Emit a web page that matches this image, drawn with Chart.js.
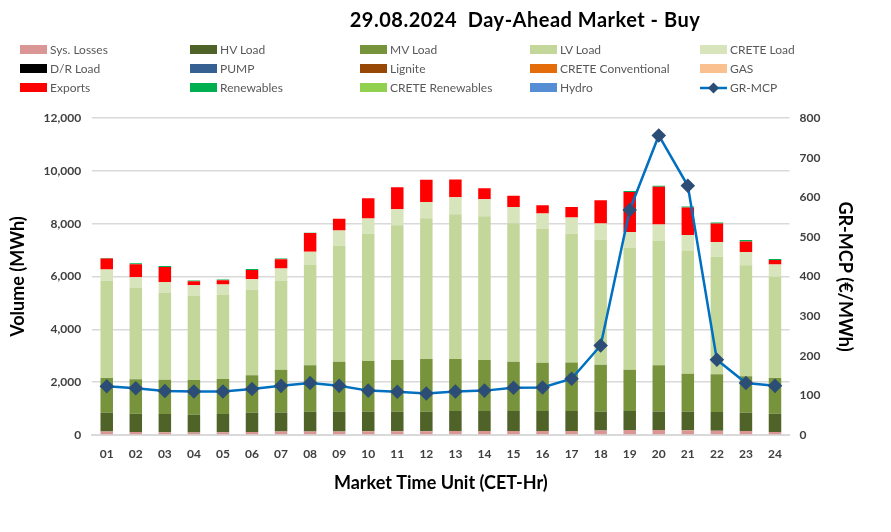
<!DOCTYPE html>
<html>
<head>
<meta charset="utf-8">
<script src="https://cdn.jsdelivr.net/npm/chart.js@4"></script>
<style>
  body { margin: 0; background: #fff; }
  #wrap { position: relative; width: 891px; height: 532px; font-family: Lato, "Open Sans", sans-serif; }
  #title { position: absolute; top: 7px; left: 525px; transform: translateX(-50%); white-space: nowrap;
           font-weight: bold; font-size: 20px; letter-spacing: 0.5px; color: #000; }
  #legend { position: absolute; top: 41px; left: 20px; width: 860px; }
  .item { position: absolute; height: 18px; line-height: 18px; font-size: 12px; color: #595959; white-space: nowrap; }
  .box { display: inline-block; width: 27px; height: 9px; vertical-align: middle; margin-right: 3px; margin-top: -2px; }
</style>
</head>
<body>
<div id="wrap">
  <canvas id="canvas" width="891" height="532"></canvas>
  <div id="title">29.08.2024&nbsp; Day-Ahead Market - Buy</div>
  <div id="legend"></div>
</div>
<script>
var hours = ['01','02','03','04','05','06','07','08','09','10','11','12','13','14','15','16','17','18','19','20','21','22','23','24'];

// MWh per market time unit
var sysLosses  = [130,110,100,90,100,110,130,130,130,140,140,140,150,150,150,150,150,170,190,190,180,160,150,110];
var hvLoad     = [711,693,691,676,691,731,723,749,749,739,739,739,754,754,754,754,754,709,714,701,699,706,691,693];
var mvLoad     = [1318,1305,1305,1317,1330,1418,1619,1757,1895,1920,1957,1995,1970,1932,1870,1832,1844,1782,1568,1745,1443,1431,1380,1356];
var lvLoad     = [3677,3452,3301,3201,3175,3238,3376,3802,4392,4819,5108,5334,5484,5447,5245,5058,4870,4731,4606,4731,4643,4455,4205,3827];
var creteLoad  = [426,414,389,389,402,402,452,502,577,577,603,615,640,640,615,589,615,615,603,602,603,552,502,465];
var drLoad     = [0,0,0,0,0,0,0,0,0,0,0,0,0,0,0,0,0,0,0,0,0,0,0,0];
var pump       = [0,0,0,0,0,0,0,0,0,0,0,0,0,0,0,0,0,0,0,0,0,0,0,0];
var lignite    = [0,0,0,0,0,0,0,0,0,0,0,0,0,0,0,0,0,0,0,0,0,0,0,0];
var creteConv  = [0,0,0,0,0,0,0,0,0,0,0,0,0,0,0,0,0,0,0,0,0,0,0,0];
var gas        = [0,0,0,0,0,0,0,0,0,0,0,0,0,0,0,0,0,0,0,0,0,0,0,0];
var exportsBuy = [415,489,577,150,163,351,352,703,440,766,828,841,678,414,427,314,401,878,1518,1431,1041,703,401,176];
var renewables = [25,38,30,25,25,30,25,12,0,0,0,0,0,0,0,0,0,0,38,38,38,38,50,37];
var creteRenew = [0,0,0,0,0,0,0,0,0,0,0,0,0,0,0,0,0,0,0,0,0,0,0,0];
var hydro      = [0,0,0,0,0,0,0,0,0,0,0,0,0,0,0,0,0,0,0,0,0,0,0,0];

// GR-MCP €/MWh
var mcp = [123,118,111,110,110,116,124,131,124,112,109,105,110,112,119,120,142,226,568,756,629,190,131,124];

var barSeries = [
  ['Sys. Losses', sysLosses, '#DA9694'],
  ['HV Load', hvLoad, '#4F6228'],
  ['MV Load', mvLoad, '#77933C'],
  ['LV Load', lvLoad, '#C4D79B'],
  ['CRETE Load', creteLoad, '#D8E4BC'],
  ['D/R Load', drLoad, '#000000'],
  ['PUMP', pump, '#376092'],
  ['Lignite', lignite, '#974806'],
  ['CRETE Conventional', creteConv, '#E46C0A'],
  ['GAS', gas, '#FAC090'],
  ['Exports', exportsBuy, '#FF0000'],
  ['Renewables', renewables, '#00B050'],
  ['CRETE Renewables', creteRenew, '#92D050'],
  ['Hydro', hydro, '#558ED5']
];

var datasets = barSeries.map(function (s) {
  return {
    type: 'bar',
    label: s[0],
    data: s[1],
    backgroundColor: s[2],
    yAxisID: 'y',
    stack: 'buy',
    order: 1,
    barPercentage: 0.43,
    categoryPercentage: 1
  };
});

datasets.push({
  type: 'line',
  label: 'GR-MCP',
  data: mcp,
  yAxisID: 'y1',
  borderColor: '#0070C0',
  borderWidth: 2.5,
  pointStyle: 'rectRot',
  pointRadius: 5.5,
  pointBackgroundColor: '#2C4D75',
  pointBorderColor: '#2C4D75',
  tension: 0,
  order: 0
});

// legend as a 5-column grid like the original
var leg = document.getElementById('legend');
datasets.forEach(function (d, i) {
  var el = document.createElement('div');
  el.className = 'item';
  el.style.left = (i % 5) * 170 + 'px';
  el.style.top = Math.floor(i / 5) * 19 + 'px';
  if (d.type === 'line') {
    el.innerHTML = '<svg width="27" height="12" style="vertical-align:middle;margin-right:3px;margin-top:-2px">' +
      '<line x1="0" y1="6" x2="27" y2="6" stroke="#0070C0" stroke-width="2.5"/>' +
      '<polygon points="13.5,0.5 19,6 13.5,11.5 8,6" fill="#2C4D75"/></svg>' + d.label;
  } else {
    el.innerHTML = '<span class="box" style="background:' + d.backgroundColor + '"></span>' + d.label;
  }
  leg.appendChild(el);
});

var tickFont = { family: 'Lato', size: 12, weight: 'bold' };
var titleFont = { family: 'Lato', size: 18, weight: 'bold' };

const ctx = document.getElementById('canvas');
const myChart = new Chart(ctx, {
  data: {
    labels: hours,
    datasets: datasets
  },
  options: {
    responsive: false,
    animation: false,
    layout: { padding: { top: 118, left: 3, right: 27, bottom: 34 } },
    plugins: {
      legend: { display: false },
      title: { display: false },
      tooltip: { enabled: false }
    },
    scales: {
      x: {
        stacked: true,
        grid: { display: false },
        border: { color: '#D9D9D9', width: 2 },
        ticks: { color: '#404040', font: tickFont, padding: 4 },
        title: { display: true, text: 'Market Time Unit (CET-Hr)', color: '#000', font: titleFont, padding: { top: 7 } }
      },
      y: {
        stacked: true,
        position: 'left',
        min: 0,
        max: 12000,
        ticks: { stepSize: 2000, color: '#404040', font: tickFont, padding: 11 },
        grid: { color: '#D9D9D9', lineWidth: 1.5, drawTicks: false },
        border: { display: false },
        title: { display: true, text: 'Volume (MWh)', color: '#000', font: titleFont, padding: { bottom: 4 } }
      },
      y1: {
        position: 'right',
        min: 0,
        max: 800,
        ticks: { stepSize: 100, color: '#404040', font: tickFont, padding: 2 },
        grid: { display: false },
        border: { display: false },
        title: { display: true, text: 'GR-MCP (€/MWh)', color: '#000', font: titleFont, padding: { top: 8, bottom: 12 } }
      }
    }
  }
});
</script>
</body>
</html>
